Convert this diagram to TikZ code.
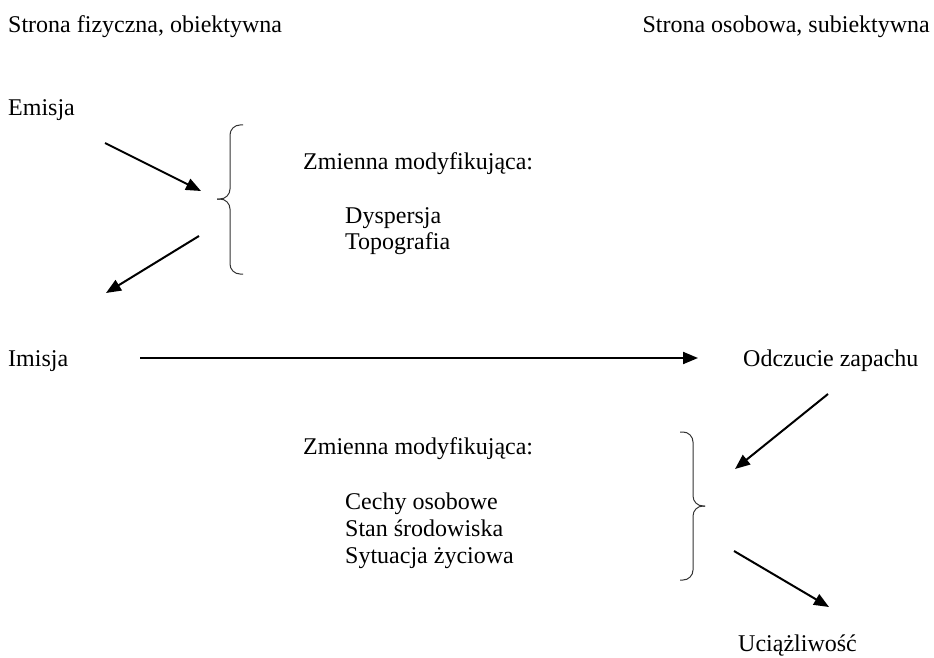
\documentclass[tikz,border=0pt]{standalone}
\usepackage{fontspec}
\setmainfont{Liberation Serif}
\usetikzlibrary{arrows.meta}
\begin{document}
\begin{tikzpicture}[x=1pt,y=-1pt,
  lbl/.style={inner sep=0pt,anchor=base west,font=\fontsize{24}{28}\selectfont},
  arr/.style={line width=2pt,-{Triangle[length=15pt,width=12pt]}},
  brace/.style={line width=1pt,draw=black!80,rounded corners=10pt}]
\useasboundingbox (0,0) rectangle (934,658);
\node[lbl] (fiz) at (8,33) {Strona fizyczna, obiektywna};
\node[lbl,anchor=base east] (oso) at (930,33) {Strona osobowa, subiektywna};
\node[lbl] (emisja) at (8,116) {Emisja};
\node[lbl] (zm1) at (303,169) {Zmienna modyfikująca:};
\node[lbl] (dys) at (345,223) {Dyspersja};
\node[lbl] (topo) at (345,249) {Topografia};
\node[lbl] (imisja) at (8,366) {Imisja};
\node[lbl] (odcz) at (743,366) {Odczucie zapachu};
\node[lbl] (zm2) at (303,454) {Zmienna modyfikująca:};
\node[lbl] (cechy) at (345,509) {Cechy osobowe};
\node[lbl] (stan) at (345,536) {Stan środowiska};
\node[lbl] (syt) at (345,563) {Sytuacja życiowa};
\node[lbl] (uci) at (738,651) {Uciążliwość};
% arrow end points
\coordinate (a1s) at (105,143); \coordinate (a1e) at (201,191);
\coordinate (a2s) at (199,236); \coordinate (a2e) at (106,293);
\coordinate (a3s) at (140,358); \coordinate (a3e) at (698,358);
\coordinate (a4s) at (828,394); \coordinate (a4e) at (735,469);
\coordinate (a5s) at (734,551); \coordinate (a5e) at (829,607);
\draw[arr] (a1s) -- (a1e);
\draw[arr] (a2s) -- (a2e);
\draw[arr] (a3s) -- (a3e);
\draw[arr] (a4s) -- (a4e);
\draw[arr] (a5s) -- (a5e);
% braces
\coordinate (b1t) at (217,199);
\draw[brace] (243,125) -- (230,125) -- (230,199) -- (b1t);
\draw[brace] (b1t) -- (230,199) -- (230,274) -- (243,274);
\coordinate (b2t) at (705,506);
\draw[brace] (680,432) -- (693,432) -- (693,506) -- (b2t);
\draw[brace] (b2t) -- (693,506) -- (693,580) -- (680,580);
\end{tikzpicture}
\end{document}
